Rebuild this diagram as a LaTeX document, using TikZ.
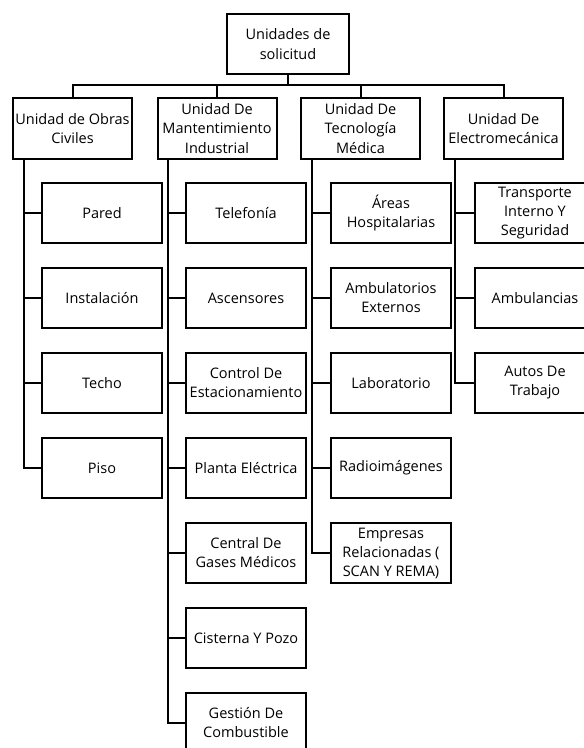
\documentclass[tikz,border=0pt]{standalone}
\usepackage{fontspec}
\setmainfont{Open Sans}
\usetikzlibrary{positioning}

\begin{document}
\begin{tikzpicture}[x=1pt,y=-1pt,
	caja/.style={draw, line width=2pt, align=center, inner sep=0pt, minimum width=120pt, minimum height=60pt, font=\fontsize{14.5}{19}\selectfont},
	unidad/.style={caja, minimum width=119pt, minimum height=61pt, font=\fontsize{14.5}{19.5}\selectfont},
	rama/.style={line width=2pt}]
	\useasboundingbox (0,0) rectangle (584,748);
	\newcommand{\filapaso}{85}
	\node[unidad, minimum width=122pt, minimum height=60pt] (raiz) at (288,44) {Unidades de\\solicitud};
	\coordinate (barra) at (0,85);
	\node[unidad] (u1) at (72.5,128.5) {Unidad de Obras\\Civiles};
	\node[unidad] (u2) at (217,128.5) {Unidad De\\Mantentimiento\\Industrial};
	\node[unidad] (u3) at (360.5,128.5) {Unidad De\\Tecnología\\Médica};
	\node[unidad] (u4) at (503.5,128.5) {Unidad De\\Electromecánica};
	\foreach \n in {1,2,3,4}
		\draw[rama] (u\n.north) |- (barra -| raiz.south) -- (raiz.south);
	\foreach \nombre [count=\i] in {Pared,Instalación,Techo,Piso}
		\node[caja] (c1-\i) at (102,213+\filapaso*\i-\filapaso) {\nombre};
	\foreach \nombre [count=\i] in {Telefonía,Ascensores,{Control De\\Estacionamiento},Planta Eléctrica,{Central De\\Gases Médicos},Cisterna Y Pozo,{Gestión De\\Combustible}}
		\node[caja] (c2-\i) at (246,213+\filapaso*\i-\filapaso) {\nombre};
	\foreach \nombre [count=\i] in {{Áreas\\Hospitalarias},{Ambulatorios\\Externos},Laboratorio,Radioimágenes,{Empresas\\Relacionadas (\\SCAN Y REMA)}}
		\node[caja] (c3-\i) at (391,213+\filapaso*\i-\filapaso) {\nombre};
	\foreach \nombre [count=\i] in {{Transporte\\Interno Y\\Seguridad},Ambulancias,{Autos De\\Trabajo}}
		\node[caja] (c4-\i) at (535,213+\filapaso*\i-\filapaso) {\nombre};
	\foreach \i in {1,...,4}
		\draw[rama] (c1-\i.west) -| ([xshift=11.5pt]u1.south west);
	\foreach \i in {1,...,7}
		\draw[rama] (c2-\i.west) -| ([xshift=11.5pt]u2.south west);
	\foreach \i in {1,...,5}
		\draw[rama] (c3-\i.west) -| ([xshift=11.5pt]u3.south west);
	\foreach \i in {1,...,3}
		\draw[rama] (c4-\i.west) -| ([xshift=11.5pt]u4.south west);
\end{tikzpicture}
\end{document}
